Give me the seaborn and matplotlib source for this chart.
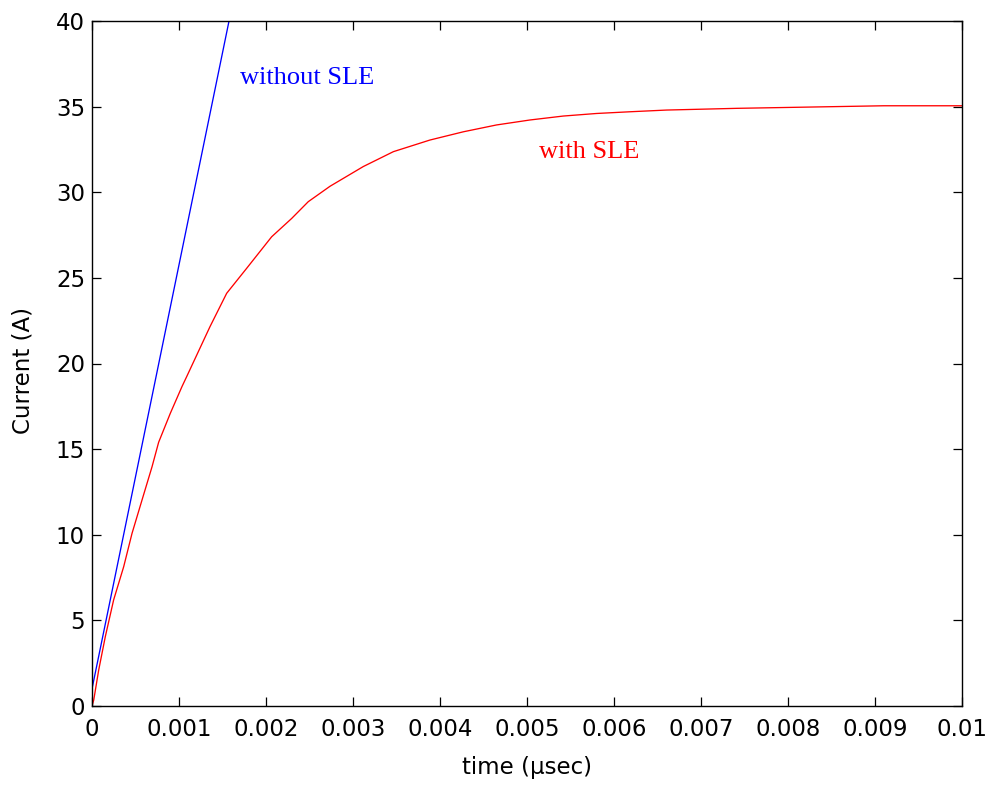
import numpy as np
import pandas as pd
import matplotlib
matplotlib.use("Agg")
import matplotlib.pyplot as plt
import seaborn as sns

# Data (time in microseconds, current in A)
t_without = [0.0, 0.001575, 0.00162]
i_without = [1.0, 40.0, 41.1]

t_with = [0.0, 0.00002, 0.000077, 0.000153, 0.000249, 0.000364, 0.00046, 0.000575,
          0.00069, 0.000766, 0.0009, 0.001034, 0.001088, 0.001356, 0.001548,
          0.001778, 0.002065, 0.002295, 0.002486, 0.002736, 0.003118, 0.003464,
          0.003885, 0.004268, 0.00465, 0.005034, 0.005417, 0.0058, 0.006184,
          0.006605, 0.00741, 0.0091, 0.01]
i_with = [0.0, 0.35, 2.1, 4.05, 6.2, 8.13, 10.08, 12.03,
          13.97, 15.4, 17.09, 18.65, 19.23, 22.15, 24.1,
          25.56, 27.4, 28.47, 29.45, 30.35, 31.5, 32.37,
          33.05, 33.53, 33.93, 34.22, 34.45, 34.6, 34.7,
          34.8, 34.9, 35.05, 35.05]

x_ticks = [0, 0.001, 0.002, 0.003, 0.004, 0.005, 0.006, 0.007, 0.008, 0.009, 0.01]
x_tick_labels = ["0", "0.001", "0.002", "0.003", "0.004", "0.005", "0.006",
                 "0.007", "0.008", "0.009", "0.01"]
y_ticks = [0, 5, 10, 15, 20, 25, 30, 35, 40]
labels = ["without SLE", "with SLE"]

df = pd.concat([
    pd.DataFrame({"time": t_without, "current": i_without, "case": labels[0]}),
    pd.DataFrame({"time": t_with, "current": i_with, "case": labels[1]}),
], ignore_index=True)

sns.set_style("ticks")
plt.rcParams["font.family"] = ["DejaVu Sans"]

fig = plt.figure(figsize=(9.89, 7.85), dpi=100)
ax = fig.add_axes([92 / 989, 1 - 706 / 785, 870 / 989, 685 / 785])

sns.lineplot(data=df, x="time", y="current", hue="case",
             palette={labels[0]: "#0000ff", labels[1]: "#ff0000"},
             linewidth=0.95, legend=False, ax=ax, sort=False, estimator=None)

ax.set_xlim(0, 0.01)
ax.set_ylim(0, 40)
ax.set_xticks(x_ticks)
ax.set_xticklabels(x_tick_labels)
ax.set_yticks(y_ticks)
ax.tick_params(direction="in", top=True, right=True, length=6.5, width=0.9,
               labelsize=16.5, colors="black", pad=5)
ax.tick_params(axis="x", pad=8.5)
for s in ax.spines.values():
    s.set_visible(True)
    s.set_linewidth(1.0)
    s.set_color("black")

ax.set_xlabel("time (µsec)", fontsize=16.5, labelpad=11, color="black")
ax.set_ylabel("Current (A)", fontsize=16.5, color="black")
ax.yaxis.set_label_coords(-0.066, 0.49)

ax.text(0.0017, 36.67, labels[0], color="#0000ff", fontsize=19,
        family="Liberation Serif", va="center", ha="left")
ax.text(0.005138, 32.35, labels[1], color="#ff0000", fontsize=19,
        family="Liberation Serif", va="center", ha="left")

fig.savefig("out.png", dpi=100, facecolor="white")
